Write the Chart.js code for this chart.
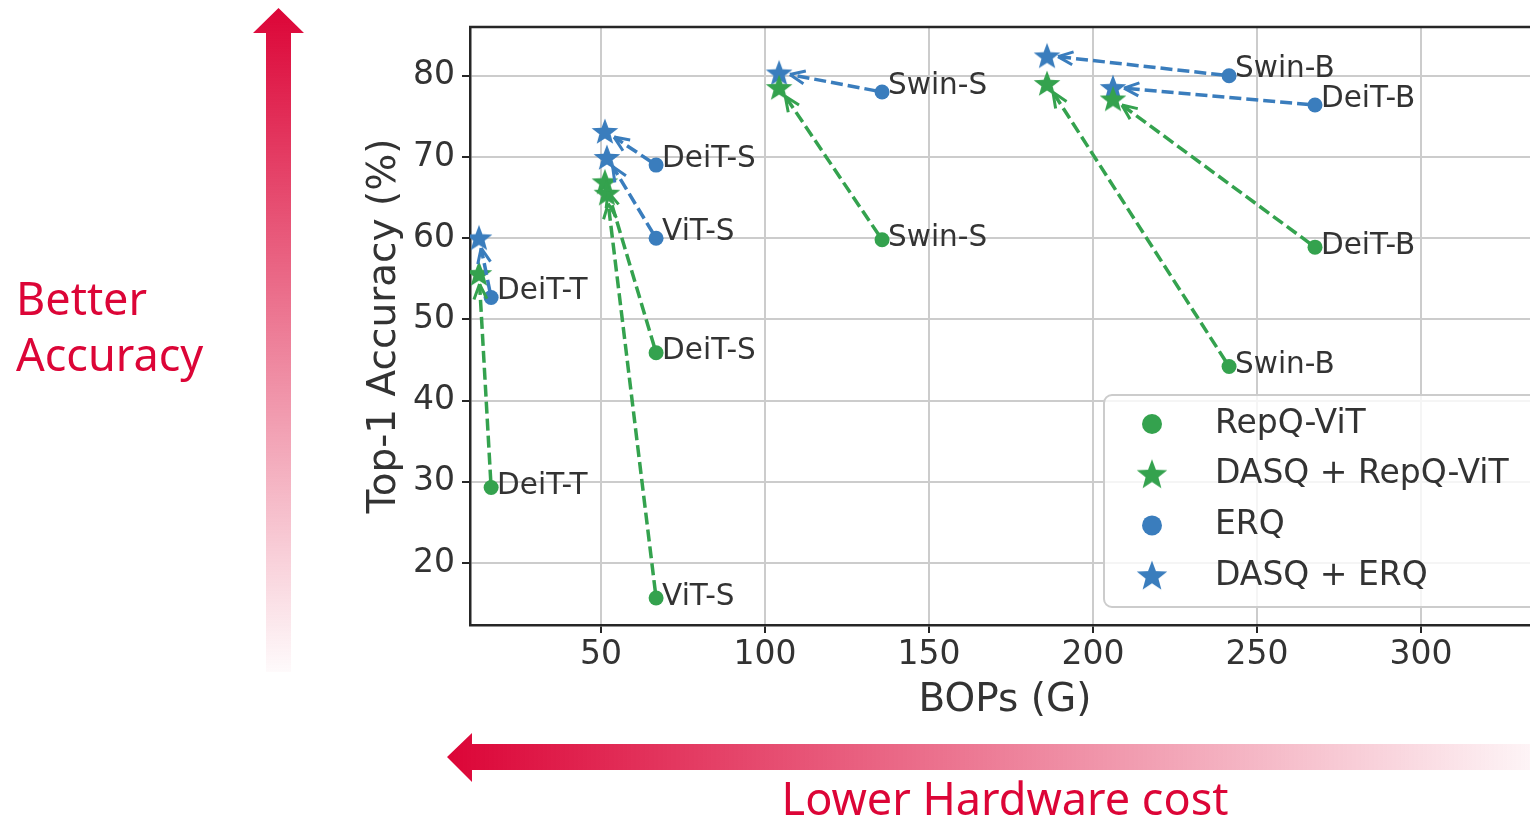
<!DOCTYPE html>
<html>
<head>
<meta charset="utf-8">
<script src="https://cdn.jsdelivr.net/npm/chart.js@4.4.0/dist/chart.umd.min.js"></script>
<style>
  html, body { margin: 0; padding: 0; background: #fff; overflow: hidden; }
  #wrap { width: 1530px; height: 819px; overflow: hidden; }
</style>
</head>
<body>
<div id="wrap"><canvas id="grafico" width="1560" height="819"></canvas></div>
<script>
// datos
const modelos = ["DeiT-T", "DeiT-S", "ViT-S", "Swin-S", "Swin-B", "DeiT-B"];
const bopsBase = [16.5, 66.8, 66.8, 135.7, 241.5, 267.7];
const bopsDasq = [12.8, 51.2, 51.8, 104.3, 186.0, 206.1];
const accRepq = [29.3, 45.9, 15.7, 59.8, 44.2, 58.9];
const accDasqRepq = [55.7, 67.0, 65.6, 78.6, 79.1, 77.2];
const accErq = [52.7, 69.0, 60.0, 78.0, 80.0, 76.4];
const accDasqErq = [60.1, 73.2, 70.0, 80.4, 82.5, 78.6];
const xTicks = [50, 100, 150, 200, 250, 300];
const yTicks = [20, 30, 40, 50, 60, 70, 80];

const verde = "#34a24e";
const azul = "#3a7dbd";
const rojo = "#dc0537";
const texto = "#333333";

const puntos = (xs, ys) => xs.map((x, i) => ({ x, y: ys[i] }));

const estrella = (color, size) => {
    const c = document.createElement("canvas");
    c.width = size; c.height = size;
    const g = c.getContext("2d");
    const r = size / 2, ri = r * 0.42;
    g.beginPath();
    for (let k = 0; k < 10; k++) {
        const rr = k % 2 === 0 ? r : ri;
        const a = -Math.PI / 2 + k * Math.PI / 5;
        const px = r + rr * Math.cos(a), py = r + 1.5 + rr * Math.sin(a);
        k === 0 ? g.moveTo(px, py) : g.lineTo(px, py);
    }
    g.closePath();
    g.fillStyle = color;
    g.fill();
    return c;
};

const estrellaVerde = estrella(verde, 28);
const estrellaAzul = estrella(azul, 28);

const datasets = [
    { label: "RepQ-ViT", data: puntos(bopsBase, accRepq), backgroundColor: verde, borderColor: verde, pointStyle: "circle", pointRadius: 7.5, borderWidth: 0 },
    { label: "DASQ + RepQ-ViT", data: puntos(bopsDasq, accDasqRepq), backgroundColor: verde, borderColor: verde, pointStyle: estrellaVerde },
    { label: "ERQ", data: puntos(bopsBase, accErq), backgroundColor: azul, borderColor: azul, pointStyle: "circle", pointRadius: 7.5, borderWidth: 0 },
    { label: "DASQ + ERQ", data: puntos(bopsDasq, accDasqErq), backgroundColor: azul, borderColor: azul, pointStyle: estrellaAzul }
];

const flecha = (ctx, x0, y0, x1, y1, color) => {
    const ang = Math.atan2(y1 - y0, x1 - x0);
    const len = Math.hypot(x1 - x0, y1 - y0);
    const ax = x0 + Math.cos(ang) * 6, ay = y0 + Math.sin(ang) * 6;
    const bx = x0 + Math.cos(ang) * (len - 11), by = y0 + Math.sin(ang) * (len - 11);
    ctx.save();
    ctx.strokeStyle = color;
    ctx.lineWidth = 3.5;
    ctx.setLineDash([12, 5]);
    ctx.beginPath();
    ctx.moveTo(ax, ay);
    ctx.lineTo(bx, by);
    ctx.stroke();
    ctx.setLineDash([]);
    ctx.lineWidth = 3;
    ctx.beginPath();
    for (const s of [-1, 1]) {
        const hx = bx - Math.cos(ang) * 15 + s * Math.sin(ang) * 6.5;
        const hy = by - Math.sin(ang) * 15 - s * Math.cos(ang) * 6.5;
        ctx.moveTo(hx, hy);
        ctx.lineTo(bx, by);
    }
    ctx.stroke();
    ctx.restore();
};

const decoracion = {
    id: "decoracion",
    afterDatasetsDraw(chart) {
        const { ctx, chartArea: a, scales: { x, y } } = chart;
        // flechas entre metodos
        modelos.forEach((m, i) => {
            flecha(ctx, x.getPixelForValue(bopsBase[i]), y.getPixelForValue(accRepq[i]),
                x.getPixelForValue(bopsDasq[i]), y.getPixelForValue(accDasqRepq[i]), verde);
            flecha(ctx, x.getPixelForValue(bopsBase[i]), y.getPixelForValue(accErq[i]),
                x.getPixelForValue(bopsDasq[i]), y.getPixelForValue(accDasqErq[i]), azul);
        });
        // etiquetas de modelos
        ctx.save();
        ctx.font = "29.5px 'DejaVu Sans'";
        ctx.fillStyle = texto;
        ctx.textBaseline = "middle";
        modelos.forEach((m, i) => {
            const px = x.getPixelForValue(bopsBase[i]) + 6;
            ctx.fillText(m, px, y.getPixelForValue(accRepq[i]) - 1);
            ctx.fillText(m, px, y.getPixelForValue(accErq[i]) - 6);
        });
        ctx.restore();

        // borde superior
        ctx.save();
        ctx.strokeStyle = "#262626";
        ctx.lineWidth = 2.5;
        ctx.beginPath();
        ctx.moveTo(a.left - 1, a.top);
        ctx.lineTo(a.right, a.top);
        ctx.stroke();
        ctx.restore();

        // leyenda
        ctx.save();
        ctx.fillStyle = "rgba(255,255,255,0.8)";
        ctx.strokeStyle = "#cccccc";
        ctx.lineWidth = 2;
        ctx.beginPath();
        ctx.roundRect(1104, 395, 460, 212, 8);
        ctx.fill();
        ctx.stroke();
        ctx.font = "33px 'DejaVu Sans'";
        ctx.textBaseline = "middle";
        datasets.forEach((d, k) => {
            const ly = 424 + k * 50.7;
            if (d.pointStyle === "circle") {
                ctx.fillStyle = d.backgroundColor;
                ctx.beginPath();
                ctx.arc(1152, ly, 10, 0, Math.PI * 2);
                ctx.fill();
            } else {
                const img = estrella(d.backgroundColor, 32);
                ctx.drawImage(img, 1152 - 16, ly - 17);
            }
            ctx.fillStyle = texto;
            ctx.fillText(d.label, 1215, ly);
        });
        ctx.restore();

        // flecha vertical
        ctx.save();
        let gr = ctx.createLinearGradient(0, 8, 0, 672);
        gr.addColorStop(0, "rgba(220,5,55,1)");
        gr.addColorStop(1, "rgba(220,5,55,0.02)");
        ctx.fillStyle = gr;
        ctx.beginPath();
        ctx.moveTo(278.5, 8);
        ctx.lineTo(304, 33);
        ctx.lineTo(291, 33);
        ctx.lineTo(291, 672);
        ctx.lineTo(266, 672);
        ctx.lineTo(266, 33);
        ctx.lineTo(253, 33);
        ctx.closePath();
        ctx.fill();

        // flecha horizontal
        gr = ctx.createLinearGradient(447, 0, 1545, 0);
        gr.addColorStop(0, "rgba(220,5,55,1)");
        gr.addColorStop(1, "rgba(220,5,55,0.03)");
        ctx.fillStyle = gr;
        ctx.beginPath();
        ctx.moveTo(447, 757);
        ctx.lineTo(472, 733);
        ctx.lineTo(472, 744);
        ctx.lineTo(1560, 744);
        ctx.lineTo(1560, 770);
        ctx.lineTo(472, 770);
        ctx.lineTo(472, 782);
        ctx.closePath();
        ctx.fill();

        ctx.fillStyle = rojo;
        ctx.font = "45px 'Noto Sans'";
        ctx.textBaseline = "alphabetic";
        ctx.fillText("Better", 16, 315);
        ctx.fillText("Accuracy", 16, 371);
        ctx.textAlign = "center";
        ctx.fillText("Lower Hardware cost", 1005, 815);
        ctx.restore();
    }
};

const grafico = new Chart(document.getElementById("grafico"), {
    type: "scatter",
    data: { datasets },
    options: {
        responsive: false,
        animation: false,
        events: [],
        layout: { padding: { left: 361, top: 27, right: 20, bottom: 94 } },
        plugins: { legend: { display: false }, tooltip: { enabled: false } },
        elements: { point: { radius: 13 } },
        scales: {
            x: {
                type: "linear",
                min: 10.06,
                max: 336.3,
                afterBuildTicks: s => { s.ticks = xTicks.map(v => ({ value: v })); },
                afterFit: s => { s.height = 100; },
                grid: { color: "#cccccc", lineWidth: 2, tickColor: "#262626", tickLength: 8 },
                border: { color: "#262626", width: 2.5 },
                ticks: { color: texto, font: { family: "DejaVu Sans", size: 33 }, padding: 3, maxRotation: 0 },
                title: { display: true, text: "BOPs (G)", color: texto, font: { family: "DejaVu Sans", size: 39 }, padding: 1 }
            },
            y: {
                type: "linear",
                min: 12.38,
                max: 86.0,
                afterBuildTicks: s => { s.ticks = yTicks.map(v => ({ value: v })); },
                afterFit: s => { s.width = 109; },
                grid: { color: "#cccccc", lineWidth: 2, tickColor: "#262626", tickLength: 8 },
                border: { color: "#262626", width: 2.5 },
                ticks: { color: texto, font: { family: "DejaVu Sans", size: 33 }, padding: 7 },
                title: { display: true, text: "Top-1 Accuracy (%)", color: texto, font: { family: "DejaVu Sans", size: 39 }, padding: 0 }
            }
        }
    },
    plugins: [decoracion]
});
</script>
</body>
</html>
